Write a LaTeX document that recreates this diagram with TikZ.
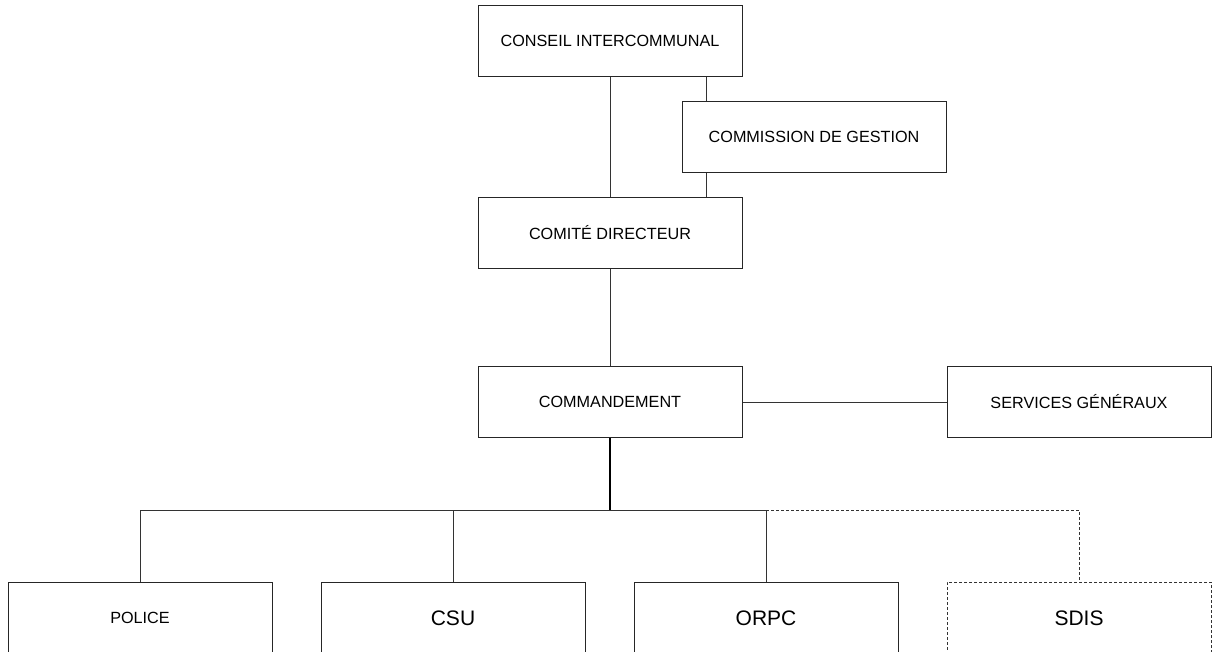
\documentclass[tikz,border=0pt]{standalone}
\usepackage{fontspec}
\setmainfont{Liberation Sans}
\begin{document}
\begin{tikzpicture}[x=1pt,y=-1pt,
  box/.style={draw=black!85,line width=1pt,minimum width=264pt,minimum height=71pt,inner sep=0pt,font=\fontsize{16.2}{19}\selectfont},
  bigbox/.style={box,minimum height=72pt,font=\fontsize{21}{24}\selectfont},
  link/.style={draw=black!80,line width=1pt},
  dlink/.style={draw=black!80,line width=0.9pt,dash pattern=on 3pt off 2pt}]
\useasboundingbox (0,0) rectangle (1221,652);
\clip (0,0) rectangle (1221,652);
\node[box] (conseil) at (610,41) {CONSEIL INTERCOMMUNAL};
\node[box] (commission) at (814,137) {COMMISSION DE GESTION};
\node[box] (comite) at (610,233) {COMITÉ DIRECTEUR};
\node[box] (commandement) at (610,402) {COMMANDEMENT};
\node[box] (services) at (1079,402) {SERVICES GÉNÉRAUX};
\node[bigbox,font=\fontsize{16.2}{19}\selectfont] (police) at (140,618) {POLICE};
\node[bigbox] (csu) at (453,618) {CSU};
\node[bigbox] (orpc) at (766,618) {ORPC};
\node[bigbox,dlink] (sdis) at (1079,618) {SDIS};
\coordinate (bus) at (610,510);
\draw[link] (conseil.south) -- (comite.north);
\draw[link] (706,0 |- conseil.south) -- (706,0 |- commission.north);
\draw[link] (706,0 |- commission.south) -- (706,0 |- comite.north);
\draw[link] (comite.south) -- (commandement.north);
\draw[link] (commandement.east) -- (services.west);
\draw[line width=2pt,black] (commandement.south) -- (bus);
\draw[link] (police.north) -- (police.north |- bus) -- (orpc.north |- bus) -- (orpc.north);
\draw[link] (csu.north) -- (csu.north |- bus);
\draw[dlink] (orpc.north |- bus) -- (sdis.north |- bus) -- (sdis.north);
\end{tikzpicture}
\end{document}
